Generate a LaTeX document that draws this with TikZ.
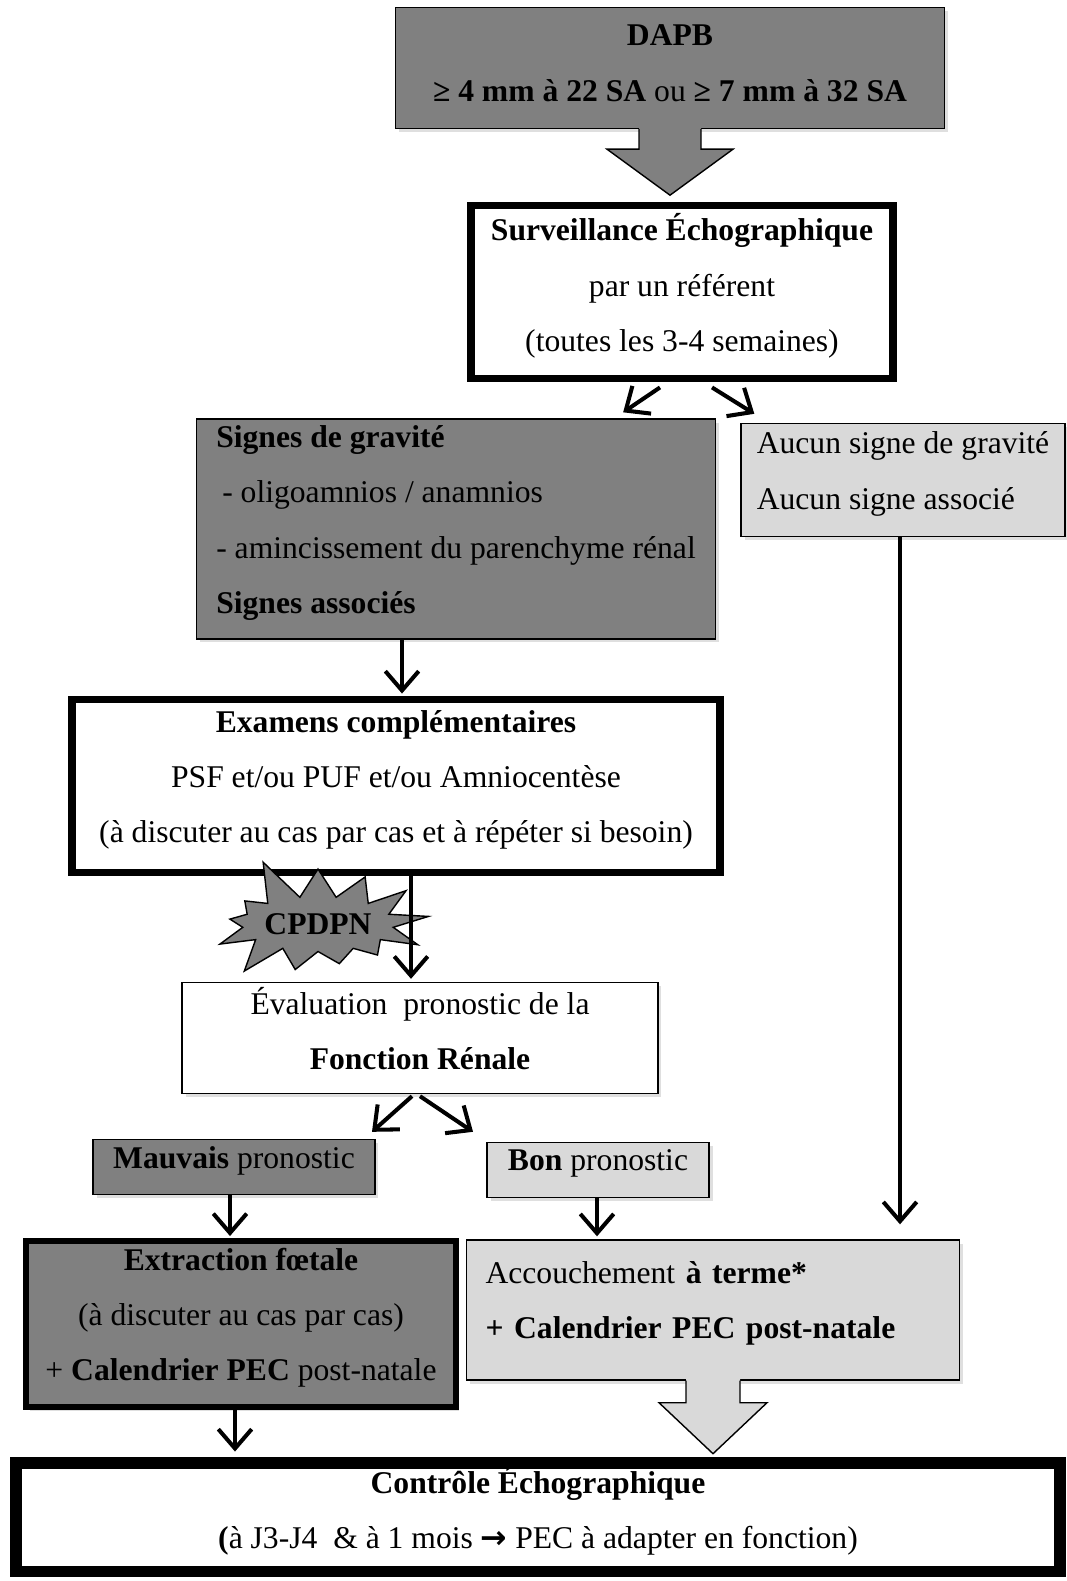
\documentclass[tikz,border=0pt]{standalone}
\usepackage{fontspec}
\setmainfont{Liberation Serif}
\newfontfamily\symfont{DejaVu Sans}
\usepackage{tikz}
\usetikzlibrary{arrows.meta, positioning, calc, shapes.symbols, shadows}
\definecolor{mygray}{RGB}{128,128,128}
\definecolor{mylight}{RGB}{217,217,217}
\tikzset{
  box/.style={rectangle, draw=black, align=center, inner sep=0pt, text depth=0.38cm,
    font=\fontsize{18}{31.5}\selectfont, line width=0.8pt,
    drop shadow={shadow xshift=2pt, shadow yshift=-2pt, opacity=0.25}},
  graybox/.style={box, fill=mygray},
  lightbox/.style={box, fill=mylight},
  whitebox/.style={box, fill=white},
  thickbox/.style={box, fill=white, line width=4.5pt},
  arrow/.style={-{Straight Barb[length=11pt, width=19pt]}, line width=2.3pt, color=black}
}

\begin{document}
\begin{tikzpicture}[x=0.02cm, y=-0.02cm,
  starnode/.style={starburst, draw=black, fill=mygray, line width=0.8pt,
    starburst points=13, starburst point height=0.9cm, random starburst=5,
    minimum width=2.7cm, minimum height=2.9cm,
    inner sep=0pt, font=\fontsize{18}{20}\selectfont\bfseries}]
  \useasboundingbox (0,0) rectangle (1066,1581);

  % DAPB
  \node[graybox, text depth=0.2cm, minimum width=10.98cm, minimum height=2.42cm] (dapb) at (670,68)
    {\textbf{DAPB}\\ \textbf{≥ 4 mm à 22 SA} ou \textbf{≥ 7 mm à 32 SA}};

  % Surveillance
  \node[thickbox, minimum width=8.44cm, minimum height=3.46cm] (surv) at (682,292)
    {\textbf{Surveillance Échographique}\\ par un référent\\ (toutes les 3-4 semaines)};

  % Signes de gravite / aucun signe
  \node[graybox, align=left, minimum width=10.38cm, minimum height=4.40cm] (signes) at (456,529)
    {\textbf{Signes de gravité}\\ \hspace*{0.12cm}- oligoamnios / anamnios\\ - amincissement du parenchyme rénal\\ \textbf{Signes associés}};
  \node[lightbox, align=left, minimum width=6.48cm, minimum height=2.26cm] (aucun) at (903,480)
    {Aucun signe de gravité\\ Aucun signe associé};

  % Examens
  \node[thickbox, minimum width=12.96cm, minimum height=3.46cm] (exam) at (396,786)
    {\textbf{Examens complémentaires}\\ PSF et/ou PUF et/ou Amniocentèse\\ (à discuter au cas par cas et à répéter si besoin)};
  \node[starnode] (cpdpn) at (318,924) {CPDPN};

  % Evaluation
  \node[whitebox, minimum width=9.52cm, minimum height=2.22cm] (eval) at (420,1038)
    {Évaluation\ \ pronostic de la\\ \textbf{Fonction Rénale}};
  \node[graybox, minimum width=5.64cm, minimum height=1.10cm] (mauv) at (234,1167)
    {\textbf{Mauvais} pronostic};
  \node[lightbox, minimum width=4.44cm, minimum height=1.10cm] (bon) at (598,1170)
    {\textbf{Bon} pronostic};

  % Issues
  \node[graybox, line width=3.4pt, minimum width=8.60cm, minimum height=3.32cm] (extr) at (241,1324)
    {\textbf{Extraction fœtale}\\ (à discuter au cas par cas)\\ + \textbf{Calendrier PEC} post-natale};
  \node[lightbox, align=left, text width=9.1cm, inner xsep=0.38cm, text depth=1.5cm, minimum height=2.80cm] (acc) at (713,1310)
    {Accouchement \textbf{à terme*}\\ \textbf{+ Calendrier PEC post-natale}};

  % Controle
  \node[thickbox, line width=6.8pt, minimum width=20.88cm, minimum height=2.18cm] (ctrl) at (538,1517)
    {\textbf{Contrôle Échographique}\\ \textbf{(}à J3-J4\ \ \& à 1 mois {\symfont\bfseries →} PEC à adapter en fonction)};

  % Wide arrows
  \fill[mygray] ($(dapb.south)+(-31,-2)$) -- ($(dapb.south)+(-31,20)$) -- ($(dapb.south)+(-63,20)$)
    -- ($(dapb.south)+(0,66)$) -- ($(dapb.south)+(63,20)$) -- ($(dapb.south)+(31,20)$)
    -- ($(dapb.south)+(31,-2)$) -- cycle;
  \draw[line width=0.8pt] ($(dapb.south)+(-31,0)$) -- ($(dapb.south)+(-31,20)$) -- ($(dapb.south)+(-63,20)$)
    -- ($(dapb.south)+(0,66)$) -- ($(dapb.south)+(63,20)$) -- ($(dapb.south)+(31,20)$)
    -- ($(dapb.south)+(31,0)$);
  \fill[mylight] ($(acc.south)+(-27,-2)$) -- ($(acc.south)+(-27,22)$) -- ($(acc.south)+(-54,22)$)
    -- ($(acc.south)+(0,73)$) -- ($(acc.south)+(54,22)$) -- ($(acc.south)+(27,22)$)
    -- ($(acc.south)+(27,-2)$) -- cycle;
  \draw[line width=0.8pt] ($(acc.south)+(-27,0)$) -- ($(acc.south)+(-27,22)$) -- ($(acc.south)+(-54,22)$)
    -- ($(acc.south)+(0,73)$) -- ($(acc.south)+(54,22)$) -- ($(acc.south)+(27,22)$)
    -- ($(acc.south)+(27,0)$);

  % Arrows
  \draw[arrow] ($(surv.south)+(-22,5)$) -- ($(signes.north east)+(-93,-6)$);
  \draw[arrow] ($(surv.south)+(30,5)$) -- ($(aucun.north west)+(14,-9)$);
  \draw[arrow] ($(signes.south)+(-54,0)$) -- ($(exam.north)+(6,-2)$);
  \draw[arrow] ($(exam.south)+(15,0)$) -- ($(eval.north)+(-9,-3)$);
  \draw[arrow] ($(eval.south)+(-8,2)$) -- ($(mauv.north)+(138,-7)$);
  \draw[arrow] ($(eval.south)+(0,2)$) -- ($(bon.north)+(-125,-10)$);
  \draw[arrow] ($(aucun.south)+(-3,0)$) -- ($(acc.north)+(187,-15)$);
  \draw[arrow] ($(mauv.south)+(-4,0)$) -- ($(extr.north)+(-11,-2)$);
  \draw[arrow] ($(bon.south)+(-1,0)$) -- ($(acc.north)+(-116,-3)$);
  \draw[arrow] ($(extr.south)+(-6,0)$) -- ($(ctrl.north)+(-303,-5)$);
\end{tikzpicture}
\end{document}
